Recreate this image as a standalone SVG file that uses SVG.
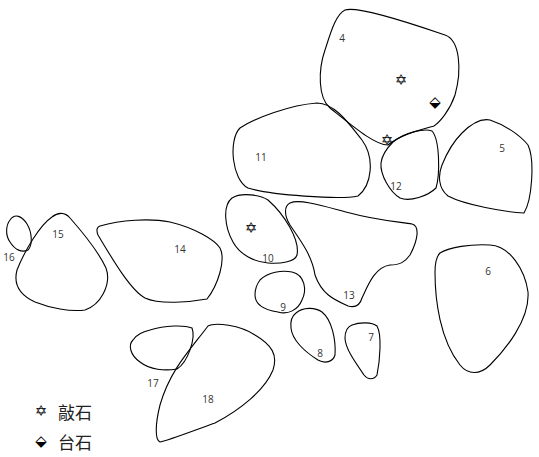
<svg xmlns="http://www.w3.org/2000/svg" width="539" height="457" viewBox="0 0 539 457">
<style>
.s{fill:none;stroke:#000;stroke-width:1.1}
.l{font-family:"Open Sans","Liberation Sans",sans-serif;font-size:10px;fill:#333;text-anchor:middle}
.y{font-family:"DejaVu Sans",sans-serif;font-size:15px;fill:#000;text-anchor:middle}
.t{font-family:"Noto Sans CJK SC","Noto Sans CJK JP",sans-serif;font-size:17px;fill:#222}
</style>
<rect width="539" height="457" fill="#fff"/>
<g id="connectors"></g>
<g id="n4"><path class="s" d="M345,10 C360,5 430,30 445,35 C460,40 462,70 455,95 C450,110 440,122 434,126 C420,130 400,135 388,145 C375,145 355,128 330,108 C318,98 318,70 325,50 C330,35 335,15 345,10 Z"/><text class="l" x="342" y="42">4</text></g>
<g id="n5"><path class="s" d="M462,133 C470,125 480,118 490,120 C505,125 520,135 528,145 C535,160 532,200 524,213 C505,212 465,205 448,196 C438,188 438,175 442,165 C448,150 455,140 462,133 Z"/><text class="l" x="502" y="152">5</text></g>
<g id="n6"><path class="s" d="M440,253 C450,247 470,244 490,245 C510,246 525,270 528,292 C530,320 505,350 490,365 C480,375 468,375 460,365 C440,340 435,300 435,272 C435,262 436,257 440,253 Z"/><text class="l" x="488" y="275">6</text></g>
<g id="n7"><path class="s" d="M352,325 C360,322 372,322 377,326 C382,335 380,360 377,375 C374,380 368,380 364,375 C355,362 345,348 345,338 C345,332 347,327 352,325 Z"/><text class="l" x="371" y="341">7</text></g>
<g id="n8"><path class="s" d="M296,313 C303,307 315,307 322,312 C332,320 336,340 335,355 C333,362 325,364 318,360 C305,352 292,340 291,328 C290,320 292,316 296,313 Z"/><text class="l" x="320" y="357">8</text></g>
<g id="n9"><path class="s" d="M260,280 C268,272 282,270 292,272 C305,275 307,290 302,300 C298,310 288,315 278,312 C265,310 255,305 255,295 C255,288 257,284 260,280 Z"/><text class="l" x="283" y="311">9</text></g>
<g id="n10"><path class="s" d="M232,198 C242,192 260,195 268,200 C285,215 300,240 297,255 C295,262 280,264 268,263 C255,262 240,255 233,242 C225,228 222,206 232,198 Z"/><text class="l" x="268" y="262">10</text><text class="y" x="251" y="233">✡</text></g>
<g id="n11"><path class="s" d="M240,128 C255,118 290,105 317,103 C335,103 350,125 362,140 C375,158 372,185 358,196 C340,200 270,195 248,188 C232,180 228,140 240,128 Z"/><text class="l" x="261" y="161">11</text></g>
<g id="n12"><path class="s" d="M393,142 C405,132 425,128 432,131 C440,140 440,175 436,188 C428,196 410,202 400,198 C390,192 380,175 381,163 C382,155 388,147 393,142 Z"/><text class="l" x="396" y="190">12</text></g>
<g id="n13"><path class="s" d="M290,203 C300,198 330,208 350,213 C375,220 400,222 412,224 C420,226 418,240 410,255 C405,262 400,265 390,265 C375,267 368,285 362,298 C360,305 355,308 348,306 C335,300 322,295 315,275 C312,255 300,240 290,225 C284,215 284,206 290,203 Z"/><text class="l" x="349" y="299">13</text></g>
<g id="n14"><path class="s" d="M100,226 C120,220 150,218 170,222 C195,228 215,240 220,248 C226,260 218,285 207,299 C190,302 160,305 145,298 C130,290 110,255 98,235 C96,230 97,227 100,226 Z"/><text class="l" x="180" y="253">14</text></g>
<g id="n15"><path class="s" d="M52,217 C58,212 65,212 70,218 C85,235 100,255 106,268 C112,285 100,305 85,310 C70,312 50,308 35,302 C20,295 13,285 17,270 C25,250 40,225 52,217 Z"/><text class="l" x="58" y="238">15</text></g>
<g id="n16"><path class="s" d="M10,220 C15,213 22,216 27,224 C32,232 33,245 28,250 C22,253 15,250 10,242 C5,235 6,225 10,220 Z"/><text class="l" x="9" y="261">16</text></g>
<g id="n17"><path class="s" d="M150,330 C165,325 185,325 192,328 C196,338 188,362 177,369 C165,371 150,370 140,362 C130,355 128,345 133,340 C137,334 143,332 150,330 Z"/><text class="l" x="153" y="387">17</text></g>
<g id="n18"><path class="s" d="M208,326 C215,322 240,325 255,335 C272,345 278,355 273,370 C265,390 240,410 215,423 C195,430 170,440 160,442 C155,440 155,425 160,405 C170,370 190,350 208,326 Z"/><text class="l" x="208" y="403">18</text></g>
<g id="markers">
<text class="y" x="401" y="85">✡</text>
<text class="y" x="387" y="145">✡</text>
<text class="y" x="435" y="107">⬙</text>
</g>
<g id="legend">
<text class="y" x="41" y="416">✡</text>
<text class="t" x="58" y="419">敲石</text>
<text class="y" x="41" y="446">⬙</text>
<text class="t" x="58" y="449">台石</text>
</g>
</svg>
